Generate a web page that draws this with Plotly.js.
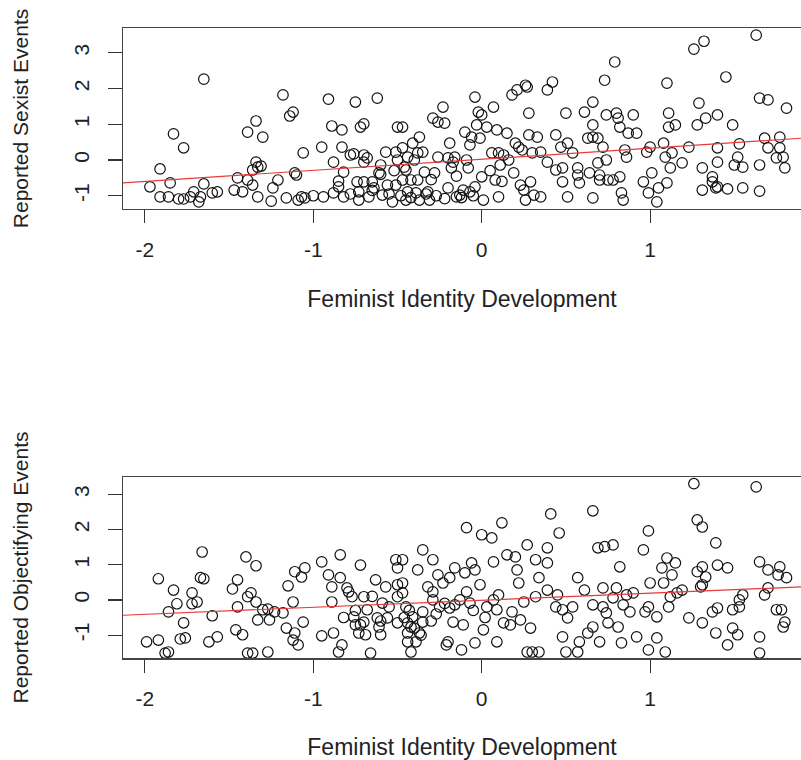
<!DOCTYPE html>
<html>
<head>
<meta charset="utf-8">
<script src="https://cdn.plot.ly/plotly-3.0.1.min.js"></script>
<style>html,body{margin:0;padding:0;background:#fff;overflow:hidden}</style>
</head>
<body>
<div id="chart" style="width:801px;height:760px"></div>
<script>
// ---- data ----
var xTickVals = [-2, -1, 0, 1];
var xTickText = ["-2", "-1", "0", "1"];
var yTickVals = [-1, 0, 1, 2, 3];
var yTickText = ["-1", "0", "1", "2", "3"];

var xTitle = "Feminist Identity Development";
var sexTitle = "Reported Sexist Events";
var objTitle = "Reported Objectifying Events";

var sexX = [-1.97,-1.91,-1.91,-1.85,-1.86,-1.83,-1.77,-1.80,-1.77,-1.73,-1.71,-1.68,-1.67,-1.65,-1.65,-1.60,-1.57,-1.47,-1.45,-1.42,
-1.39,-1.39,-1.36,-1.36,-1.34,-1.34,-1.33,-1.31,-1.33,-1.30,-1.24,-1.25,-1.21,-1.18,-1.16,-1.14,-1.12,-1.11,-1.10,-1.09,
-1.07,-1.06,-1.05,-0.95,-0.94,-0.91,-0.89,-0.88,-0.88,-0.85,-0.83,-0.83,-0.82,-0.82,-0.78,-0.76,-0.75,-0.74,-0.73,-0.73,
-0.72,-0.70,-0.70,-0.70,-0.70,-0.68,-0.67,-0.65,-0.64,-0.62,-0.61,-0.60,-0.59,-0.57,-0.56,-0.53,-0.51,-0.50,-0.50,-0.51,
-0.47,-0.47,-0.44,-0.45,-0.47,-0.44,-0.45,-0.42,-0.41,-0.39,-0.37,-0.38,-0.38,-0.37,-0.35,-0.34,-0.32,-0.31,-0.29,-0.28,
-0.26,-0.26,-0.23,-0.22,-0.20,-0.20,-0.19,-0.18,-0.16,-0.17,-0.15,-0.13,-0.11,-0.10,-0.09,-0.08,-0.07,-0.06,-0.07,-0.04,
-0.04,-0.03,-0.02,0.00,-0.01,0.01,0.00,0.03,0.06,0.07,0.08,0.09,0.10,0.10,0.11,0.13,0.15,0.16,0.18,0.19,
0.20,0.21,0.22,0.23,0.24,0.25,0.26,0.26,0.27,0.28,0.28,0.29,0.30,0.31,0.33,0.35,0.35,0.39,0.39,0.42,
0.44,0.44,0.47,0.48,0.48,0.50,0.51,0.51,0.54,0.57,0.57,0.58,0.61,0.63,0.64,0.66,0.66,0.66,0.66,0.69,
0.69,0.70,0.70,0.72,0.73,0.74,0.74,0.75,0.78,0.79,0.80,0.81,0.82,0.82,0.83,0.84,0.85,0.86,0.87,0.90,
0.92,0.96,0.98,0.99,1.00,1.01,1.04,1.05,1.08,1.09,1.10,1.10,1.11,1.11,1.12,1.13,1.15,1.19,1.23,1.26,
1.29,1.28,1.31,1.31,1.32,1.33,1.37,1.37,1.39,1.40,1.40,1.40,1.45,1.46,1.49,1.50,1.52,1.53,1.55,1.55,
1.63,1.65,1.65,1.65,1.68,1.70,1.70,1.75,1.77,1.77,1.79,1.80,1.81,1.40,
-0.55,-0.48,-0.42,-0.33,-0.27,-0.22,-0.12,-0.05,-0.60,-0.52,-0.46,-0.40,-0.30,-0.15,0.05,0.12,-0.65,-0.78,-0.85,-1.00];
var sexY = [-0.75,-0.25,-1.03,-0.64,-1.03,0.73,0.34,-1.09,-1.09,-1.03,-0.89,-1.17,-1.03,2.26,-0.67,-0.92,-0.89,-0.84,-0.50,-0.89,
0.78,-0.56,-0.28,-0.70,-0.06,1.09,-0.20,-0.17,-1.03,0.64,-0.78,-1.15,-0.56,1.82,-1.06,1.23,1.34,-0.36,-0.42,-1.12,
-1.03,0.20,-1.06,0.36,-1.03,1.70,0.95,-0.06,-0.92,-0.59,0.36,0.84,-0.34,-1.03,0.14,0.17,1.62,-0.61,-0.89,-1.12,
0.92,1.01,0.14,-0.06,-0.61,0.06,-1.03,-0.61,-0.78,1.73,-0.36,-0.14,-0.98,0.22,-0.70,-1.17,0.22,0.92,0.00,-0.70,
0.92,0.34,0.08,-0.28,-0.56,-0.89,-1.12,-0.56,0.47,-0.92,0.64,0.20,-0.56,-1.12,0.22,-0.34,-0.89,-1.12,1.17,-0.36,
0.08,1.06,1.48,1.03,0.06,-0.78,0.47,-0.22,0.08,-0.06,-1.03,-0.98,-0.84,0.78,0.00,-0.22,0.42,0.64,-0.89,1.76,
-0.75,0.98,1.34,1.26,0.61,-1.12,-0.47,0.92,0.20,1.48,-0.56,0.84,-1.03,0.20,-0.14,0.14,0.75,0.00,1.82,-0.36,
0.47,1.96,0.36,-0.70,0.28,-0.84,-1.12,2.09,2.04,1.31,0.70,-0.61,0.20,-0.98,0.64,-1.03,0.22,-0.06,1.96,2.18,
0.70,-0.28,0.36,-0.22,-0.61,1.31,-1.03,0.47,0.20,-0.22,-0.42,-0.64,1.34,0.61,-0.36,1.62,0.98,0.64,-1.06,0.61,
-0.08,-0.42,-0.56,0.36,2.23,1.26,0.00,-0.56,-0.56,2.74,1.31,1.17,0.92,-0.47,-0.92,-1.12,0.28,0.08,0.75,1.26,
0.75,-0.61,0.22,-0.92,0.36,-0.36,-1.17,-0.78,0.47,0.08,2.15,-0.64,1.31,0.92,-0.22,0.20,0.98,-0.08,0.36,3.10,
1.59,0.98,-0.22,-0.84,3.32,1.17,-0.47,-0.61,-0.78,-0.06,1.26,0.34,2.32,-0.81,0.98,-0.14,0.08,0.45,-0.78,-0.20,
3.49,1.73,-0.14,-0.87,0.61,0.34,1.68,0.06,0.64,0.34,0.08,-0.22,1.45,-0.75,
-0.95,-1.00,-1.05,-0.95,-1.00,-1.08,-1.05,-1.00,-0.40,-0.30,-0.20,0.00,-0.55,-0.45,-0.30,-0.60,-0.85,-0.95,-0.75,-1.00];

var objX = [-1.99,-1.92,-1.92,-1.88,-1.86,-1.86,-1.83,-1.81,-1.77,-1.79,-1.76,-1.72,-1.72,-1.69,-1.67,-1.66,-1.65,-1.62,-1.60,-1.57,
-1.48,-1.46,-1.45,-1.45,-1.42,-1.40,-1.39,-1.39,-1.37,-1.36,-1.34,-1.34,-1.33,-1.30,-1.27,-1.27,-1.26,-1.23,-1.18,-1.16,
-1.15,-1.12,-1.12,-1.11,-1.11,-1.09,-1.07,-1.06,-1.05,-0.95,-0.95,-0.91,-0.89,-0.89,-0.88,-0.84,-0.84,-0.85,-0.83,-0.80,
-0.79,-0.77,-0.76,-0.75,-0.73,-0.72,-0.72,-0.70,-0.70,-0.69,-0.68,-0.66,-0.63,-0.62,-0.61,-0.60,-0.59,-0.57,-0.56,-0.51,
-0.50,-0.50,-0.50,-0.50,-0.47,-0.47,-0.47,-0.45,-0.44,-0.44,-0.44,-0.42,-0.42,-0.41,-0.39,-0.38,-0.37,-0.35,-0.35,-0.35,
-0.32,-0.29,-0.29,-0.29,-0.26,-0.25,-0.23,-0.20,-0.21,-0.19,-0.19,-0.17,-0.16,-0.16,-0.12,-0.11,-0.10,-0.09,-0.09,-0.07,
-0.06,-0.04,-0.04,-0.01,0.00,0.01,0.03,0.06,0.07,0.07,0.09,0.09,0.10,0.12,0.13,0.15,0.17,0.18,0.20,0.21,
0.22,0.23,0.25,0.27,0.27,0.29,0.30,0.32,0.32,0.34,0.34,0.39,0.39,0.39,0.41,0.44,0.45,0.46,0.48,0.48,
0.50,0.51,0.54,0.57,0.57,0.58,0.61,0.63,0.66,0.66,0.66,0.69,0.70,0.72,0.72,0.73,0.74,0.75,0.78,0.78,
0.80,0.81,0.82,0.83,0.84,0.86,0.88,0.90,0.92,0.96,0.97,0.99,0.99,1.00,0.99,1.04,1.04,1.07,1.08,1.09,
1.10,1.11,1.12,1.13,1.15,1.16,1.19,1.23,1.26,1.28,1.28,1.30,1.31,1.31,1.31,1.37,1.39,1.39,1.40,1.40,
1.46,1.46,1.49,1.49,1.52,1.53,1.55,1.63,1.65,1.65,1.65,1.68,1.70,1.70,1.75,1.76,1.77,1.78,1.80,1.79,
1.81,1.33,1.31,1.53,
-0.46,-0.43,-0.40,-0.36,-0.30,-0.27,-0.22,-0.13,-0.05,0.02,-0.55,-0.60,-0.65,-0.75,-0.82];
var objY = [-1.19,0.60,-1.14,-1.51,-1.48,-0.34,0.28,-0.11,-0.65,-1.11,-1.08,0.20,-0.11,-0.06,0.63,1.36,0.60,-1.19,-0.45,-1.05,
0.31,-0.85,0.57,-0.20,-0.99,1.22,0.09,-1.51,0.20,-1.51,0.97,-0.06,-0.57,-0.28,-1.48,-0.26,-0.57,-0.34,-0.37,-0.80,
0.40,-0.06,-1.14,-0.94,0.80,-1.28,0.65,-0.63,0.91,-1.02,1.08,0.71,0.37,-0.06,-0.94,1.28,0.63,-1.48,-1.28,0.34,
0.23,0.09,-0.48,-0.71,-0.94,0.99,-0.71,0.09,-0.63,-0.99,-0.28,-1.51,0.57,-0.51,-0.77,-0.99,-0.09,0.37,-0.51,1.14,
0.91,0.09,-0.65,0.43,1.14,0.48,0.20,-0.20,-0.65,-0.94,-1.19,-1.48,-0.77,-0.48,-1.19,0.85,-0.94,-0.34,-0.63,1.42,
0.37,0.23,1.14,0.00,0.71,-0.20,0.48,-1.19,-1.28,0.63,-0.23,-0.63,0.91,-0.14,-1.42,-0.71,0.77,2.05,0.23,-0.09,
1.05,0.85,-1.22,0.43,1.85,-0.85,-0.20,1.76,1.08,0.00,-1.19,-0.28,0.14,2.19,-0.65,1.28,-0.71,-0.34,1.22,0.85,
0.48,-0.57,-0.06,1.56,-1.48,-0.80,-1.48,1.14,0.09,-1.48,0.63,0.28,1.48,1.05,2.44,-0.20,0.14,1.90,-1.05,-0.28,
-1.48,-0.51,-0.20,-1.48,0.63,-1.19,0.28,-0.94,2.53,-0.14,-0.77,1.48,-1.19,0.34,-0.20,1.51,-0.37,-0.65,1.56,0.06,
0.34,-0.77,0.94,-1.22,-0.14,0.14,-0.34,0.20,-1.05,1.42,-0.34,1.96,-0.20,0.48,-1.42,-1.08,-0.48,0.91,0.48,-1.48,
1.19,-0.20,0.09,0.71,1.05,0.20,0.28,-0.51,3.30,2.27,0.80,0.37,-0.65,2.07,0.94,-0.34,-0.94,1.62,-0.23,0.99,
0.91,-1.28,-0.80,-0.28,-0.99,-0.20,0.14,3.21,1.08,-1.05,-1.51,0.14,0.85,0.34,-0.28,0.71,0.94,-0.28,-0.63,-0.77,
0.63,0.65,0.43,0.00,
-0.50,-0.30,-0.80,-1.00,-0.60,-0.40,-0.10,0.00,-0.30,-0.50,-0.20,-0.60,0.10,-0.30,-0.50];

// regression lines (intercept, slope)
var sexFit = [0.02, 0.31];
var objFit = [-0.01, 0.20];

// ---- drawing ----
var xRange = [-2.13, 1.896];
var sexRange = [-1.37, 3.69];
var objRange = [-1.65, 3.49];

function fitLine(c) {
  var xs = [xRange[0] - 1, xRange[1] + 1];
  return { x: xs, y: xs.map(function (v) { return c[0] + c[1] * v; }) };
}

var markerStyle = { symbol: 'circle-open', size: 10.5, color: '#111', line: { width: 1.2, color: '#111' } };
var lineStyle = { color: '#e8393b', width: 1.2 };
var fs = fitLine(sexFit), fo = fitLine(objFit);

var traces = [
  { x: sexX, y: sexY, type: 'scatter', mode: 'markers', marker: markerStyle, xaxis: 'x', yaxis: 'y', hoverinfo: 'x+y' },
  { x: fs.x, y: fs.y, type: 'scatter', mode: 'lines', line: lineStyle, xaxis: 'x', yaxis: 'y', hoverinfo: 'skip' },
  { x: objX, y: objY, type: 'scatter', mode: 'markers', marker: markerStyle, xaxis: 'x2', yaxis: 'y2', hoverinfo: 'x+y' },
  { x: fo.x, y: fo.y, type: 'scatter', mode: 'lines', line: lineStyle, xaxis: 'x2', yaxis: 'y2', hoverinfo: 'skip' }
];

var FONT = 'Liberation Sans, Arial, Helvetica, sans-serif';
function xAxis(anchor) {
  return {
    anchor: anchor, range: xRange, tickmode: 'array', tickvals: xTickVals, ticktext: xTickText,
    ticks: 'outside', ticklen: 13, tickwidth: 1.2, tickcolor: '#333',
    showline: true, linecolor: '#444', linewidth: 1.5, mirror: true,
    showgrid: false, zeroline: false, automargin: false,
    tickfont: { family: FONT, size: 21, color: '#222' }, ticklabelstandoff: 8,
    title: { text: xTitle, font: { family: FONT, size: 23, color: '#222' }, standoff: 31 }
  };
}
function yAxis(anchor, range, domain, title) {
  return {
    anchor: anchor, range: range, domain: domain, tickmode: 'array', tickvals: yTickVals, ticktext: yTickText,
    ticks: 'outside', ticklen: 14, tickwidth: 1.2, tickcolor: '#333', tickangle: -90,
    showline: true, linecolor: '#444', linewidth: 1.5, mirror: false,
    showgrid: false, zeroline: false, automargin: false,
    tickfont: { family: FONT, size: 21, color: '#222' }, ticklabelstandoff: 10,
    title: { text: title, font: { family: FONT, size: 21, color: '#222' }, standoff: 35 }
  };
}

var layout = {
  width: 801, height: 760,
  margin: { l: 123, r: 0, t: 28, b: 102, pad: 0 },
  paper_bgcolor: '#fff', plot_bgcolor: '#fff',
  showlegend: false,
  xaxis: xAxis('y'),
  yaxis: yAxis('x', sexRange, [0.7127, 1], sexTitle),
  xaxis2: xAxis('y2'),
  yaxis2: yAxis('x2', objRange, [0, 0.2873], objTitle)
};

Plotly.newPlot('chart', traces, layout, { displayModeBar: false, staticPlot: true });
</script>
</body>
</html>
